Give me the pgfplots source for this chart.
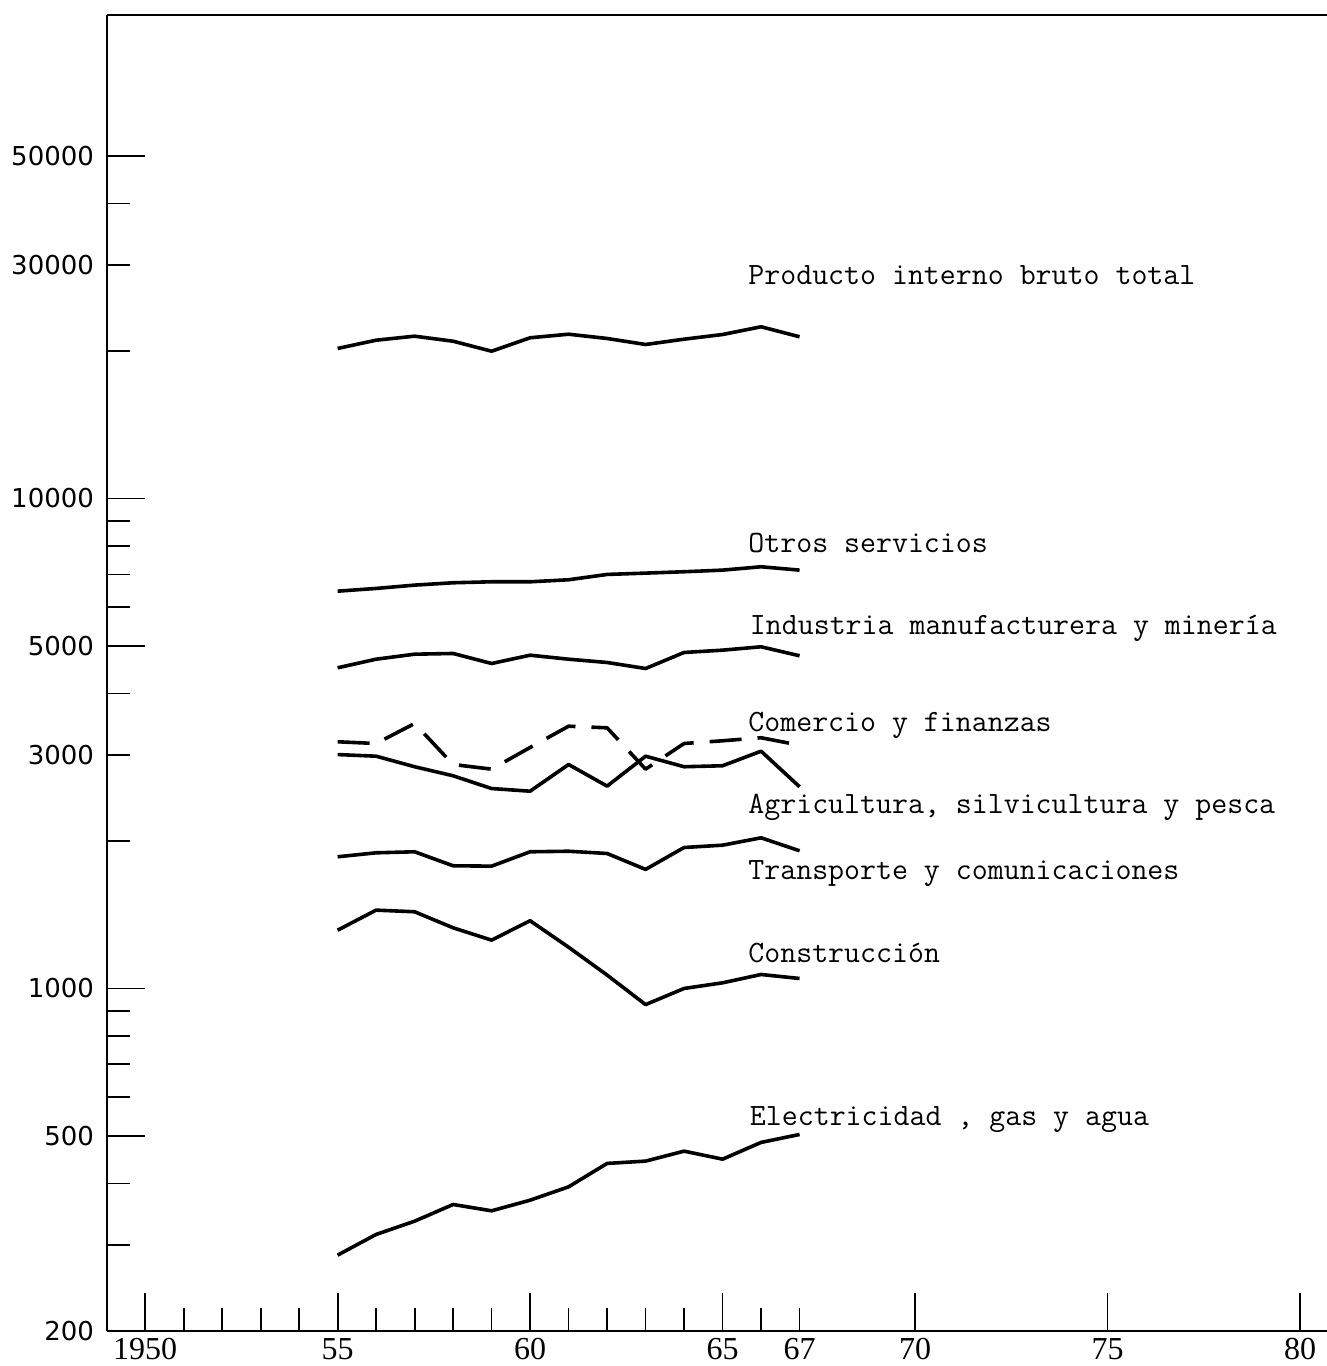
\documentclass[border=0pt]{standalone}
\usepackage{pgfplots}
\pgfplotsset{compat=1.18}
\usepackage{fontspec}
\newfontfamily\ynum{DejaVu Sans}
\newfontfamily\xnum{Liberation Serif}
\begin{document}
\begin{tikzpicture}
\begin{axis}[
  scale only axis, width=610pt, height=658pt,
  xmin=1949.01, xmax=1980.7,
  ymode=log, ymin=200, ymax=97000,
  axis lines*=left,
  axis line style={line width=1pt},
  clip=false,
  tick align=inside,
  tick style={black, line width=0.9pt},
  major tick length=19pt,
  minor tick length=11.5pt,
  xtick={1950,1955,1960,1965,1970,1975,1980},
  xticklabels={1950,55,60,65,70,75,80},
  minor xtick={1951,1952,1953,1954,1956,1957,1958,1959,1961,1962,1963,1964,1966},
  extra x ticks={1967},
  extra x tick labels={67},
  extra x tick style={major tick length=11.5pt},
  ytick={500,1000,5000,10000,50000},
  yticklabels={500,1000,5000,10000,50000},
  minor ytick={300,400,600,700,800,900,2000,4000,6000,7000,8000,9000,20000,40000},
  extra y ticks={200,3000,30000},
  extra y tick labels={200,3000,30000},
  extra y tick style={major tick length=11.5pt},
  xticklabel style={font=\xnum\fontsize{16}{16}\selectfont, inner sep=1pt, yshift=-2.5pt},
  yticklabel style={font=\ynum\fontsize{13}{13}\selectfont, xshift=-3pt},
  cycle list={{black, solid}},
  every axis plot/.append style={line width=1.8pt, black, line join=round, no marks},
]
% Producto interno bruto total
\addplot coordinates {(1955,20237) (1956,21040) (1957,21440) (1958,20940) (1959,19980) (1960,21280) (1961,21640) (1962,21210) (1963,20620) (1964,21140) (1965,21610) (1966,22410) (1967,21380)};
% Otros servicios
\addplot coordinates {(1955,6469) (1956,6553) (1957,6656) (1958,6730) (1959,6761) (1960,6761) (1961,6826) (1962,6998) (1963,7042) (1964,7088) (1965,7142) (1966,7256) (1967,7142)};
% Industria manufacturera y mineria
\addplot coordinates {(1955,4513) (1956,4699) (1957,4811) (1958,4827) (1959,4605) (1960,4788) (1961,4699) (1962,4627) (1963,4498) (1964,4850) (1965,4903) (1966,4981) (1967,4775)};
% Comercio y finanzas (dashed)
\addplot[black, dash pattern=on 16pt off 8pt] coordinates {(1955,3188) (1956,3162) (1957,3474) (1958,2865) (1959,2803) (1960,3103) (1961,3430) (1962,3404) (1963,2803) (1964,3162) (1965,3203) (1966,3249) (1967,3137)};
% Agricultura, silvicultura y pesca
\addplot coordinates {(1955,3002) (1956,2979) (1957,2835) (1958,2717) (1959,2559) (1960,2527) (1961,2865) (1962,2588) (1963,2979) (1964,2835) (1965,2848) (1966,3050) (1967,2580)};
% Transporte y comunicaciones
\addplot coordinates {(1955,1857) (1956,1892) (1957,1901) (1958,1780) (1959,1777) (1960,1901) (1961,1906) (1962,1886) (1963,1750) (1964,1940) (1965,1961) (1966,2030) (1967,1910)};
% Construccion
\addplot coordinates {(1955,1315) (1956,1445) (1957,1434) (1958,1330) (1959,1255) (1960,1375) (1961,1214) (1962,1065) (1963,927) (1964,1000) (1965,1027) (1966,1068) (1967,1048)};
% Electricidad, gas y agua
\addplot coordinates {(1955,285.6) (1956,314.8) (1957,335) (1958,362.4) (1959,351.8) (1960,369.8) (1961,393.8) (1962,439.5) (1963,444.3) (1964,465.6) (1965,448.4) (1966,485.1) (1967,503.6)};

\draw[line width=1pt] (rel axis cs:0,1) -- (rel axis cs:1,1);

\begin{scope}[every node/.style={anchor=base west, inner sep=0pt, font=\fontsize{15.5}{18}\selectfont\ttfamily}]
\node at (axis cs:1965.66,27340) {Producto interno bruto total};
\node at (axis cs:1965.66,7757) {Otros servicios};
\node at (axis cs:1965.7,5278) {Industria manufacturera y minería};
\node at (axis cs:1965.66,3345) {Comercio y finanzas};
\node at (axis cs:1965.66,2276) {Agricultura, silvicultura y pesca};
\node at (axis cs:1965.66,1669) {Transporte y comunicaciones};
\node at (axis cs:1965.66,1130) {Construcción};
\node at (axis cs:1965.7,525.5) {Electricidad , gas y agua};
\end{scope}
\end{axis}
\pgfresetboundingbox
\path (-53.5pt,-17.5pt) rectangle (610pt,665.5pt);
\end{tikzpicture}
\end{document}
